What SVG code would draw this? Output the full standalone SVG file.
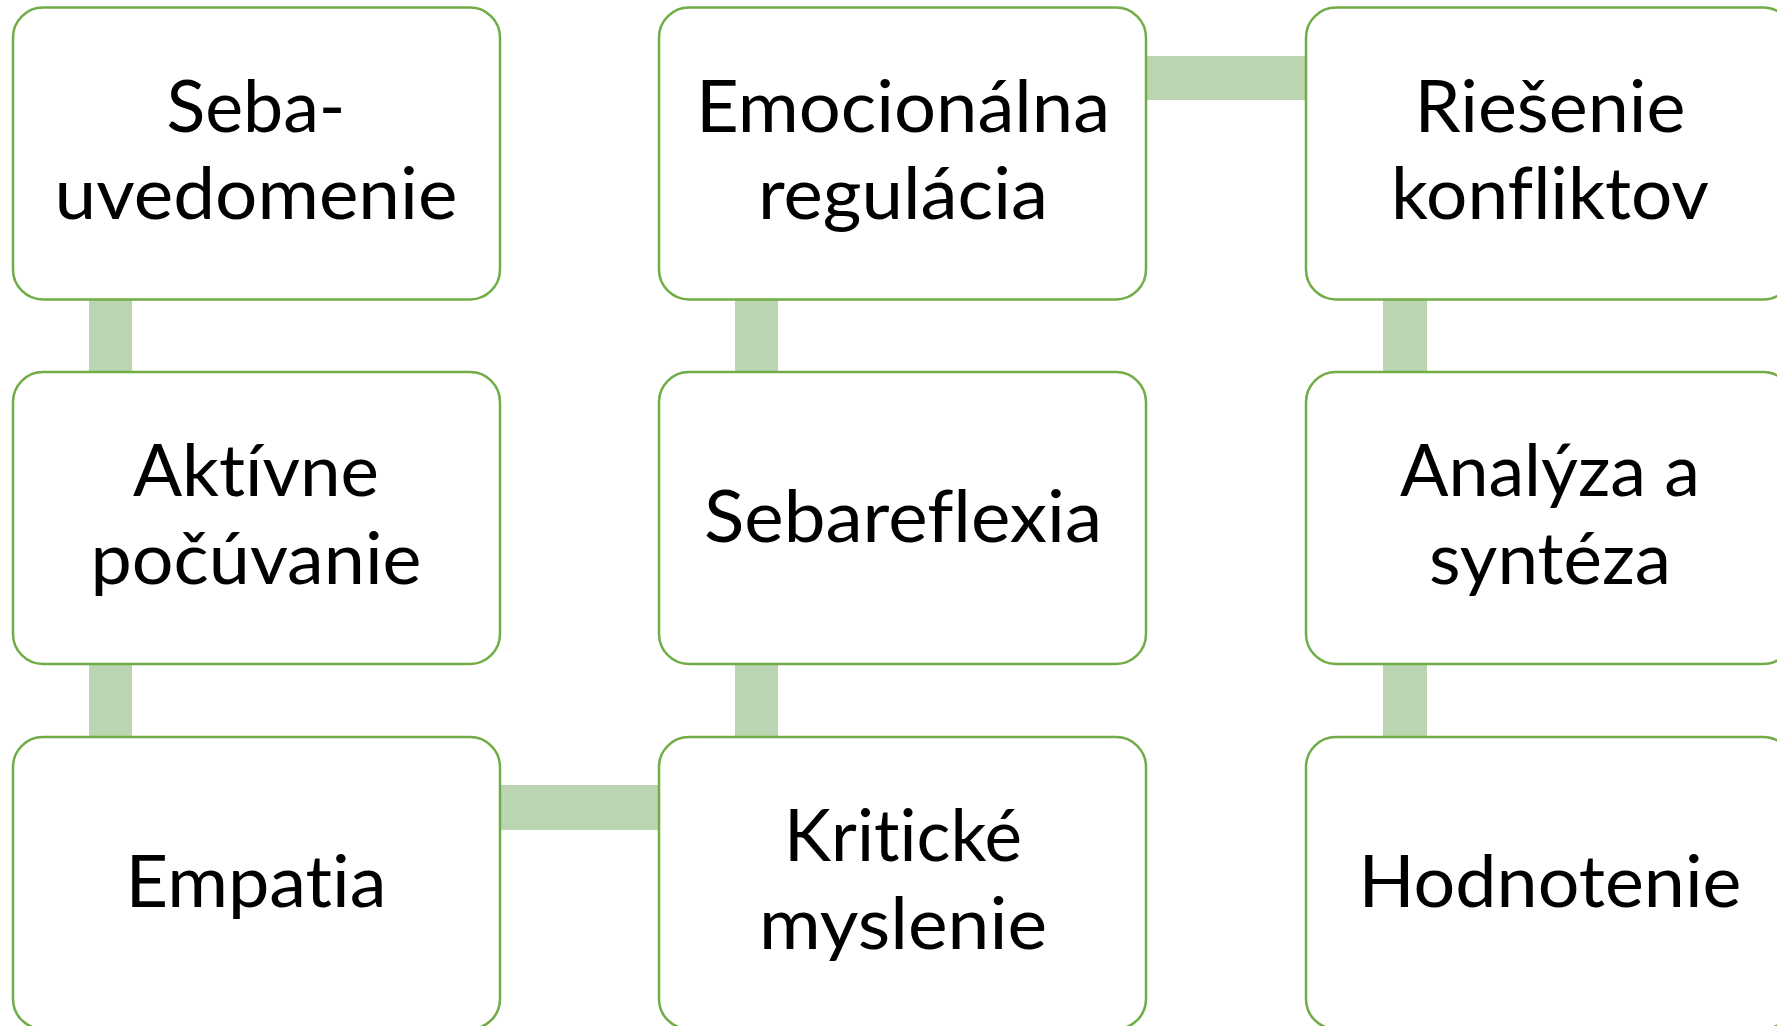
<svg xmlns="http://www.w3.org/2000/svg" width="1777" height="1026" viewBox="0 0 1777 1026">
<style>
.box{fill:#ffffff;stroke:#70ad47;stroke-width:2.5}
.conn{fill:#bbd4b2;stroke:none}
.t{font-family:Lato,"Open Sans","Liberation Sans",sans-serif;font-size:72px;fill:#000000;text-anchor:middle;font-variant-ligatures:none;font-feature-settings:"liga" 0,"clig" 0}
</style>
<rect width="1777" height="1026" fill="#ffffff"/>
<g id="connectors">
<rect class="conn" x="89" y="295" width="43" height="82"/>
<rect class="conn" x="89" y="660" width="43" height="82"/>
<rect class="conn" x="495" y="785" width="169" height="45"/>
<rect class="conn" x="735" y="660" width="43" height="82"/>
<rect class="conn" x="735" y="295" width="43" height="82"/>
<rect class="conn" x="1141" y="56" width="170" height="44"/>
<rect class="conn" x="1383" y="295" width="44" height="82"/>
<rect class="conn" x="1383" y="660" width="44" height="82"/>
</g>
<g id="n1"><rect class="box" x="13" y="7.5" width="487" height="292" rx="30"/>
<text class="t" x="256" y="131.7" textLength="179" lengthAdjust="spacingAndGlyphs">Seba-</text>
<text class="t" x="256" y="219" textLength="403" lengthAdjust="spacingAndGlyphs">uvedomenie</text></g>
<g id="n2"><rect class="box" x="13" y="372" width="487" height="292" rx="30"/>
<text class="t" x="256" y="496" textLength="246" lengthAdjust="spacingAndGlyphs">Aktívne</text>
<text class="t" x="256" y="583.5" textLength="331" lengthAdjust="spacingAndGlyphs">počúvanie</text></g>
<g id="n3"><rect class="box" x="13" y="737" width="487" height="292" rx="30"/>
<text class="t" x="256" y="906.7" textLength="261" lengthAdjust="spacingAndGlyphs">Empatia</text></g>
<g id="n4"><rect class="box" x="659" y="737" width="487" height="292" rx="30"/>
<text class="t" x="903" y="861" textLength="238" lengthAdjust="spacingAndGlyphs">Kritické</text>
<text class="t" x="903" y="948.5" textLength="288" lengthAdjust="spacingAndGlyphs">myslenie</text></g>
<g id="n5"><rect class="box" x="659" y="372" width="487" height="292" rx="30"/>
<text class="t" x="903" y="541.7" textLength="398" lengthAdjust="spacingAndGlyphs">Sebareflexia</text></g>
<g id="n6"><rect class="box" x="659" y="7.5" width="487" height="292" rx="30"/>
<text class="t" x="903" y="131.7" textLength="414" lengthAdjust="spacingAndGlyphs">Emocionálna</text>
<text class="t" x="903" y="219" textLength="290" lengthAdjust="spacingAndGlyphs">regulácia</text></g>
<g id="n7"><rect class="box" x="1306" y="7.5" width="487" height="292" rx="30"/>
<text class="t" x="1550" y="131.7" textLength="271" lengthAdjust="spacingAndGlyphs">Riešenie</text>
<text class="t" x="1550" y="219" textLength="318" lengthAdjust="spacingAndGlyphs">konfliktov</text></g>
<g id="n8"><rect class="box" x="1306" y="372" width="487" height="292" rx="30"/>
<text class="t" x="1550" y="496" textLength="300" lengthAdjust="spacingAndGlyphs">Analýza a</text>
<text class="t" x="1550" y="583.5" textLength="242" lengthAdjust="spacingAndGlyphs">syntéza</text></g>
<g id="n9"><rect class="box" x="1306" y="737" width="487" height="292" rx="30"/>
<text class="t" x="1550" y="906.7" textLength="383" lengthAdjust="spacingAndGlyphs">Hodnotenie</text></g>
</svg>
